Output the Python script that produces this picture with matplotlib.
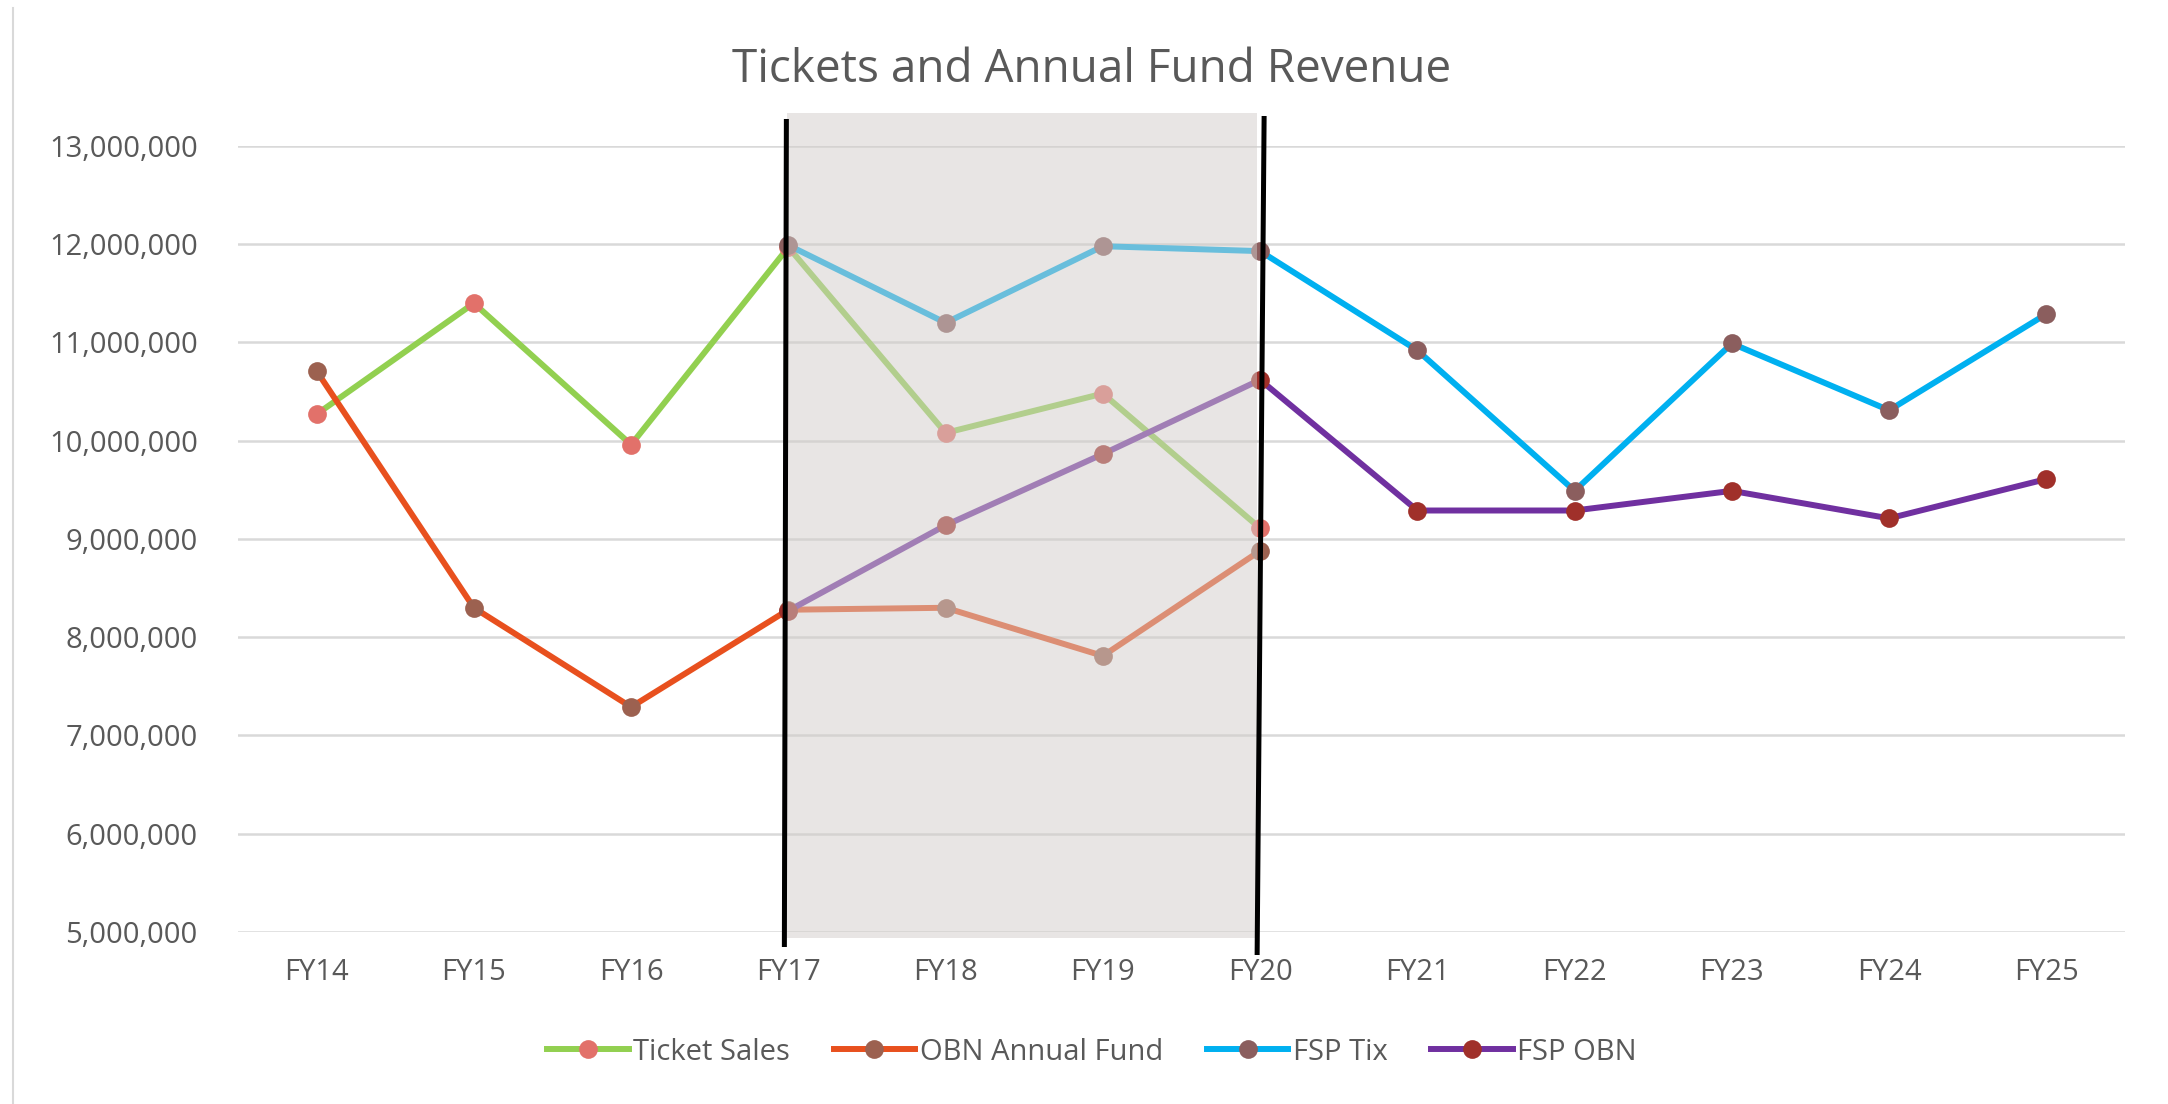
import matplotlib
matplotlib.use("Agg")
import matplotlib.pyplot as plt
from matplotlib.patches import Rectangle
from matplotlib.lines import Line2D
from matplotlib.ticker import FuncFormatter
import numpy as np

# ---- data ----
categories = ["FY14", "FY15", "FY16", "FY17", "FY18", "FY19", "FY20",
              "FY21", "FY22", "FY23", "FY24", "FY25"]
ticket_sales = [10.27e6, 11.40e6, 9.96e6, 11.97e6, 10.08e6, 10.48e6, 9.11e6,
                None, None, None, None, None]
obn_annual_fund = [10.71e6, 8.30e6, 7.29e6, 8.28e6, 8.30e6, 7.81e6, 8.88e6,
                   None, None, None, None, None]
fsp_tix = [None, None, None, 11.99e6, 11.20e6, 11.98e6, 11.93e6,
           10.92e6, 9.49e6, 10.99e6, 10.31e6, 11.29e6]
fsp_obn = [None, None, None, 8.27e6, 9.14e6, 9.865e6, 10.62e6,
           9.29e6, 9.29e6, 9.49e6, 9.21e6, 9.61e6]
series_names = ["Ticket Sales", "OBN Annual Fund", "FSP Tix", "FSP OBN"]
y_ticks = [5e6, 6e6, 7e6, 8e6, 9e6, 10e6, 11e6, 12e6, 13e6]
shade_from, shade_to = "FY17", "FY20"

title = "Tickets and Annual Fund Revenue"

# ---- styling ----
FONT = ["Open Sans", "DejaVu Sans"]
plt.rcParams["font.family"] = FONT
TXT = "#595959"
line_colors = ["#92D050", "#E8501E", "#00B0F0", "#7030A0"]
marker_colors = ["#E2716A", "#9C6150", "#8B5E5E", "#A0302A"]

W, H = 2168, 1104
fig = plt.figure(figsize=(W / 100, H / 100), dpi=100)
ax = fig.add_axes([238 / W, 1 - 932 / H, (2125 - 238) / W, (932 - 146) / H])

x = np.arange(len(categories))
data = [ticket_sales, obn_annual_fund, fsp_tix, fsp_obn]
handles = []
for vals, name, lc, mc in zip(data, series_names, line_colors, marker_colors):
    v = np.array([np.nan if d is None else d for d in vals], dtype=float)
    h, = ax.plot(x, v, color=lc, lw=4.3, marker="o", markersize=13.5,
                 markerfacecolor=mc, markeredgecolor=mc, markeredgewidth=0,
                 solid_joinstyle="round", label=name, zorder=3)
    handles.append(h)

ax.set_xlim(-0.5, len(categories) - 0.5)
ax.set_ylim(5e6, 13e6)
ax.set_yticks(y_ticks)
ax.yaxis.set_major_formatter(FuncFormatter(lambda v, p: f"{int(round(v)):,}"))
ax.set_xticks(x)
ax.set_xticklabels(categories)
ax.tick_params(axis="both", length=0, labelsize=21, labelcolor=TXT)
ax.tick_params(axis="y", pad=29)
ax.tick_params(axis="x", pad=19)
ax.grid(axis="y", color="#D9D9D9", lw=1.8, zorder=1)
ax.set_axisbelow(True)
for s in ax.spines.values():
    s.set_visible(False)

# ---- shaded overlay & hand-drawn black lines ----
i0 = categories.index(shade_from)
i1 = categories.index(shade_to)
px_unit = (2125 - 238) / len(categories)      # pixels per category
px_val = (932 - 146) / 8e6                    # pixels per unit value
rect = Rectangle((i0 - 1 / px_unit, 5e6 - 6 / px_val), (i1 - i0) - 2 / px_unit,
                 8e6 + 39 / px_val, facecolor="#D2CDCA", alpha=0.5,
                 edgecolor="none", zorder=4, clip_on=False)
ax.add_patch(rect)
ax.plot([i0 - 2 / px_unit, i0 - 4 / px_unit],
        [13e6 + 27 / px_val, 5e6 - 15 / px_val],
        color="black", lw=3.6, zorder=5, clip_on=False, solid_capstyle="butt")
ax.plot([i1 + 4 / px_unit, i1 - 3 / px_unit],
        [13e6 + 30 / px_val, 5e6 - 23 / px_val],
        color="black", lw=3.6, zorder=5, clip_on=False, solid_capstyle="butt")

# ---- title ----
fig.text(0.5035, 1 - 70 / H, title, ha="center", va="center",
         fontsize=33, color=TXT)

# ---- legend ----
leg = fig.legend(handles=handles, labels=series_names, loc="center",
                 bbox_to_anchor=(1092 / W, 1 - 1052 / H), ncol=4,
                 frameon=False, fontsize=21, handlelength=2.8,
                 handletextpad=0.15, columnspacing=1.5, numpoints=1)
for t in leg.get_texts():
    t.set_color(TXT)

# ---- spreadsheet edge line ----
fig.add_artist(Line2D([13 / W, 13 / W], [0, 1 - 8 / H], color="#D9D9D9",
                      lw=1.5, transform=fig.transFigure))

fig.savefig("out.png", dpi=100)
